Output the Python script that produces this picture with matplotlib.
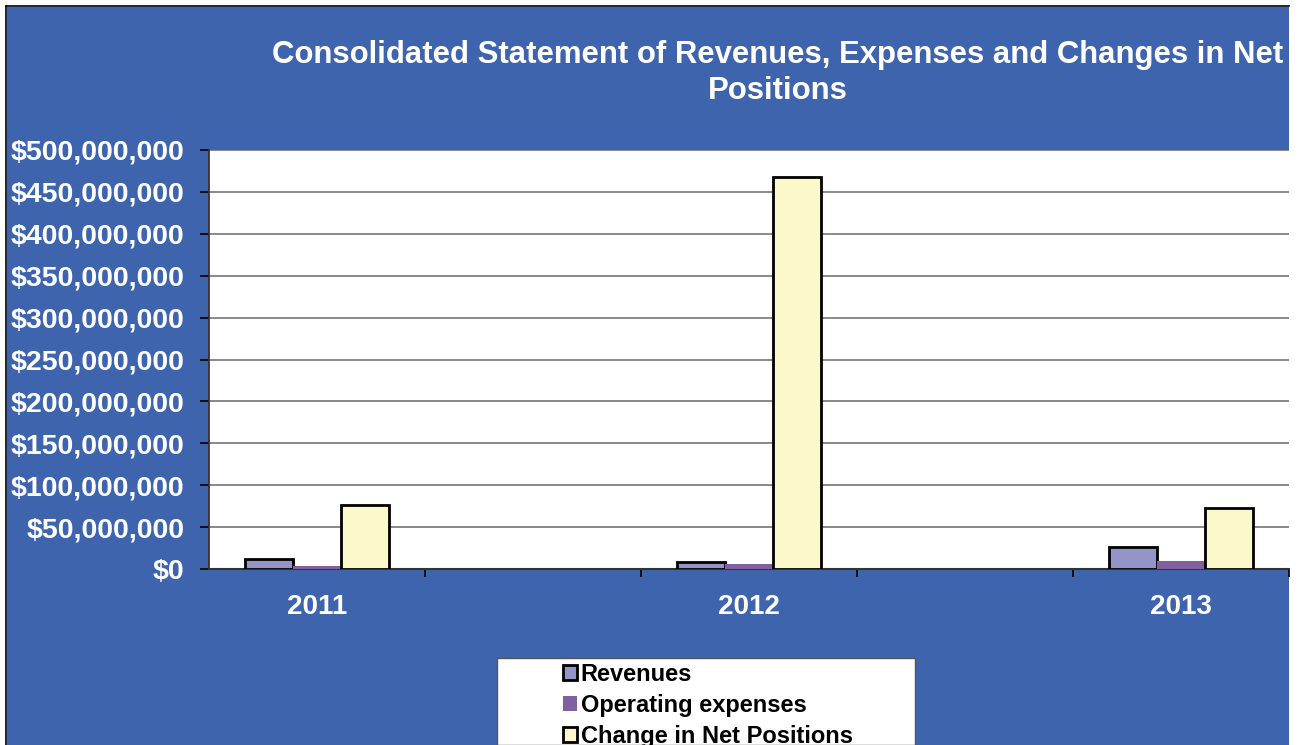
import numpy as np
import matplotlib
matplotlib.use("Agg")
import matplotlib.pyplot as plt
from matplotlib.patches import Rectangle
from matplotlib.lines import Line2D
from matplotlib.ticker import FuncFormatter, MultipleLocator

# ---- data ----
categories = ["2011", "", "2012", "", "2013"]
revenues = [12_000_000, np.nan, 8_000_000, np.nan, 26_000_000]
operating_expenses = [4_000_000, np.nan, 5_500_000, np.nan, 9_500_000]
change_net_positions = [76_000_000, np.nan, 468_000_000, np.nan, 73_000_000]
series_names = ["Revenues", "Operating expenses", "Change in Net Positions"]
title = "Consolidated Statement of Revenues, Expenses and Changes in Net\nPositions"

W, H = 1301, 745
plt.rcParams['font.family'] = ['Liberation Sans', 'DejaVu Sans']
fig = plt.figure(figsize=(W / 100, H / 100), dpi=100, facecolor="white")

blue = "#3F64AE"
# blue chart area background
fig.patches.append(Rectangle((7 / W, 0), (1289 - 7) / W, (H - 7) / H,
                             transform=fig.transFigure, facecolor=blue,
                             edgecolor="none", zorder=-10))
fig.add_artist(Line2D([6 / W, 6 / W], [0, 1 - 6 / H], transform=fig.transFigure,
                      color="black", lw=1.2, zorder=-9))
fig.add_artist(Line2D([6 / W, 1289 / W], [1 - 6 / H, 1 - 6 / H], transform=fig.transFigure,
                      color="black", lw=1.2, zorder=-9))

ax = fig.add_axes([209 / W, (H - 569) / H, 1080 / W, 419 / H])
ax.set_zorder(2)
ax.set_facecolor("white")

x = np.arange(len(categories))
bw = 1 / 4.5
c_rev = "#9494C8"
c_op = "#80609F"
c_chg = "#FBF8CC"
b1 = ax.bar(x - bw, revenues, bw, color=c_rev, edgecolor="black", linewidth=2.0,
            label=series_names[0], zorder=3)
b2 = ax.bar(x, operating_expenses, bw, color=c_op, edgecolor="none",
            label=series_names[1], zorder=3)
b3 = ax.bar(x + bw, change_net_positions, bw, color=c_chg, edgecolor="black", linewidth=2.0,
            label=series_names[2], zorder=3)

ax.set_xlim(-0.5, len(categories) - 0.5)
ax.set_ylim(0, 500_000_000)
ax.yaxis.set_major_locator(MultipleLocator(50_000_000))
ax.yaxis.set_major_formatter(FuncFormatter(lambda v, p: f"${v:,.0f}"))
ax.grid(axis="y", color="#808080", linewidth=1.3, zorder=0)
ax.set_axisbelow(True)

for s in ["top", "right"]:
    ax.spines[s].set_visible(False)
ax.spines["left"].set_color("#333333")
ax.spines["left"].set_linewidth(1.3)
ax.spines["bottom"].set_color("#333333")
ax.spines["bottom"].set_linewidth(1.5)

ax.tick_params(axis="y", direction="out", length=6.5, width=1.2, color="black",
               labelcolor="white", labelsize=20.5, pad=11)
for lab in ax.get_yticklabels():
    lab.set_fontweight("bold")

ax.set_xticks(x)
ax.set_xticklabels(categories, fontsize=20, fontweight="bold", color="white")
ax.tick_params(axis="x", which="major", length=0, pad=18)
ax.set_xticks(np.arange(-0.5, len(categories), 1.0)[1:], minor=True)
ax.tick_params(axis="x", which="minor", direction="out", length=6, width=1.2, color="black")

fig.text(778 / W, 1 - 73 / H, title, ha="center", va="center", color="white",
         fontsize=22.4, fontweight="bold", linespacing=1.24, multialignment="center")

# legend box
fig.patches.append(Rectangle((497 / W, 0), (915 - 497) / W, (H - 658) / H,
                             transform=fig.transFigure, facecolor="white",
                             edgecolor="#555555", linewidth=1.0, zorder=3))
leg = fig.legend(handles=[b1, b2, b3], labels=series_names, loc="upper left",
                 bbox_to_anchor=(563 / W, 1 - 663 / H), frameon=False,
                 prop={"size": 17, "weight": "bold"}, handlelength=0.6,
                 handleheight=0.6, handletextpad=0.15, labelspacing=0.33,
                 borderpad=0, borderaxespad=0)
leg.set_zorder(5)

fig.savefig("out.png", dpi=100)
